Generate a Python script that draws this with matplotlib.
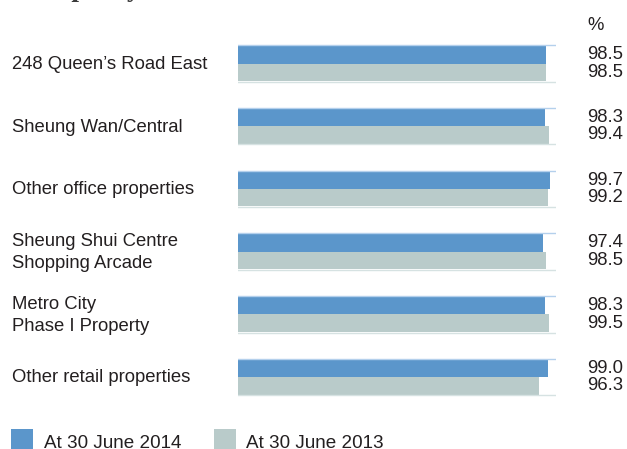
import numpy as np
import matplotlib.pyplot as plt
from matplotlib.patches import Rectangle
import matplotlib.transforms as mtransforms

# Occupancy of investment properties (%)
properties = ["248 Queen\u2019s Road East", "Sheung Wan/Central", "Other office properties",
              "Sheung Shui Centre\nShopping Arcade", "Metro City\nPhase I Property",
              "Other retail properties"]
occ_2014 = [98.5, 98.3, 99.7, 97.4, 98.3, 99.0]
occ_2013 = [98.5, 99.4, 99.2, 98.5, 99.5, 96.3]
legend_labels = ["At 30 June 2014", "At 30 June 2013"]

blue = "#5b96cb"
grey = "#b9cbca"
text_col = "#231f20"
W, H = 627, 449

plt.rcParams['font.family'] = ['Liberation Sans', 'DejaVu Sans']

fig = plt.figure(figsize=(W / 100, H / 100), dpi=100)
ax = fig.add_axes([238 / W, 0, 318 / W, 1])
ax.axis('off')

# one unit on y = distance between groups (about 62.7 px), group 0 centred at 63.5 px
pitch, y0 = 62.7, 63.5
ax.set_ylim((H - y0) / pitch, -y0 / pitch)
ax.set_xlim(0, 101.7)

h = 17.5 / pitch
y = np.arange(len(properties))
ax.barh(y - h / 2, occ_2014, height=h, color=blue, linewidth=0)
ax.barh(y + h / 2, occ_2013, height=h, color=grey, linewidth=0)
for yi in y:
    ax.axhline(yi - h - 0.012, color="#b4d0ec", lw=1)
    ax.axhline(yi + h + 0.012, color="#d6e2e2", lw=1)

tr = mtransforms.blended_transform_factory(fig.transFigure, ax.transData)
for yi, name, a, b in zip(y, properties, occ_2014, occ_2013):
    fig.text(12 / W, yi + 0.015, name, transform=tr, ha='left', va='center',
             fontsize=13.3, color=text_col, linespacing=1.35)
    fig.text(623 / W, yi - h / 2, f"{a:.1f}", transform=tr, ha='right', va='center',
             fontsize=13.3, color=text_col)
    fig.text(623 / W, yi + h / 2, f"{b:.1f}", transform=tr, ha='right', va='center',
             fontsize=13.3, color=text_col)
fig.text(587 / W, (26 - y0) / pitch, "%", transform=tr, ha='left', va='center',
         fontsize=13.3, color=text_col)

# title cut off at the top, only the descenders show
fig.text(12 / W, 1 + 4 / H, "Occupancy", ha='left', va='baseline', fontsize=19.5,
         family='Liberation Serif', weight='bold', color="#3a3a3a")

# legend
for x_sq, x_txt, col, lab in [(11, 44, blue, legend_labels[0]), (214, 246, grey, legend_labels[1])]:
    fig.patches.append(Rectangle((x_sq / W, 0), 22 / W, 20 / H, transform=fig.transFigure,
                                 color=col, lw=0))
    fig.text(x_txt / W, 1.5 / H, lab, ha='left', va='baseline', fontsize=13.6, color=text_col)

fig.savefig("out.png", dpi=100)
